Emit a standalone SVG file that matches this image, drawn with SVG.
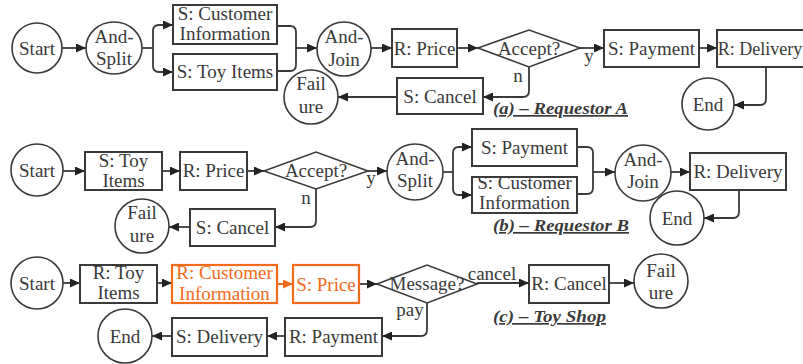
<svg xmlns="http://www.w3.org/2000/svg" width="803" height="364" viewBox="0 0 803 364">
  <style>
    .t { font-family: "Liberation Serif", "Times New Roman", serif; font-size: 19px; fill: #3a3a3a; text-anchor: middle; }
    .o .t, .t.o { fill: #f26a1b; }
    .box { fill: #fff; stroke: #3a3a3a; stroke-width: 2; }
    .obox { fill: #fff; stroke: #f26a1b; stroke-width: 2.2; }
    .circ { fill: #fff; stroke: #3a3a3a; stroke-width: 1.6; }
    .dia { fill: #fff; stroke: #3a3a3a; stroke-width: 1.6; }
    .c { fill: none; stroke: #3a3a3a; stroke-width: 1.8; }
    .arr { marker-end: url(#ah); }
    .oc { fill: none; stroke: #f26a1b; stroke-width: 2; marker-end: url(#aho); }
    .lbl { font-family: "Liberation Serif", "Times New Roman", serif; font-size: 17px; font-weight: bold; font-style: italic; fill: #3a3a3a; text-decoration: underline; }
  </style>
  <defs>
    <marker id="ah" markerUnits="userSpaceOnUse" markerWidth="10" markerHeight="9" refX="10" refY="4.5" orient="auto">
      <path d="M0,0 L10,4.5 L0,9 z" fill="#222"/>
    </marker>
    <marker id="aho" markerUnits="userSpaceOnUse" markerWidth="10" markerHeight="9" refX="10" refY="4.5" orient="auto">
      <path d="M0,0 L10,4.5 L0,9 z" fill="#f26a1b"/>
    </marker>
  </defs>
  <rect width="803" height="364" fill="#fff"/>

  <!-- connectors -->
  <g id="connectors">
    <!-- (a) Requestor A -->
    <path class="c arr" d="M62,48 H86"/>
    <path class="c" d="M142,48 H153"/>
    <path class="c arr" d="M153,48 V31 Q153,25 159,25 H173"/>
    <path class="c arr" d="M153,48 V66 Q153,72 159,72 H173"/>
    <path class="c" d="M277,26 H290 Q296,26 296,32 V65 Q296,71 290,71 H277"/>
    <path class="c arr" d="M296,48 H317"/>
    <path class="c arr" d="M371,48 H392"/>
    <path class="c arr" d="M457,48 H478"/>
    <path class="c arr" d="M580,48 H604"/>
    <path class="c arr" d="M699,48 H717"/>
    <path class="c arr" d="M766,67 V99 Q766,105 760,105 H734"/>
    <path class="c arr" d="M529,67 V91 Q529,97 523,97 H483"/>
    <path class="c arr" d="M397,97 H338"/>
    <!-- (b) Requestor B -->
    <path class="c arr" d="M63,171 H85"/>
    <path class="c arr" d="M162,171 H180"/>
    <path class="c arr" d="M247,171 H264"/>
    <path class="c arr" d="M368,171 H387"/>
    <path class="c" d="M443,172 H453"/>
    <path class="c arr" d="M453,172 V153 Q453,147 459,147 H472"/>
    <path class="c arr" d="M453,172 V189 Q453,195 459,195 H472"/>
    <path class="c" d="M577,147 H587 Q593,147 593,153 V188 Q593,194 587,194 H577"/>
    <path class="c arr" d="M593,172 H615"/>
    <path class="c arr" d="M671,172 H690"/>
    <path class="c arr" d="M739,190 V212 Q739,218 733,218 H704"/>
    <path class="c arr" d="M316,189 V221 Q316,227 310,227 H275"/>
    <path class="c arr" d="M190,227 H169"/>
    <!-- (c) Toy Shop -->
    <path class="c arr" d="M63,283 H80"/>
    <path class="c arr" d="M157,283 H172"/>
    <path class="oc" d="M277,284 H293"/>
    <path class="c arr" d="M359,284 H377"/>
    <path class="c arr" d="M477,283 H529"/>
    <path class="c arr" d="M609,283 H634"/>
    <path class="c arr" d="M427,303 V330 Q427,336 421,336 H382"/>
    <path class="c arr" d="M285,336 H267"/>
    <path class="c arr" d="M172,336 H152"/>
  </g>

  <!-- (a) Requestor A -->
  <g id="a-start"><circle class="circ" cx="37" cy="48" r="25"/><text class="t" x="37" y="55">Start</text></g>
  <g id="a-and-split"><ellipse class="circ" cx="114" cy="48" rx="28" ry="26"/><text class="t" x="114" y="43">And-</text><text class="t" x="114" y="65">Split</text></g>
  <g id="a-customer-info"><rect class="box" x="173" y="5" width="104" height="39"/><text class="t" x="225" y="20">S: Customer</text><text class="t" x="225" y="40">Information</text></g>
  <g id="a-toy-items"><rect class="box" x="173" y="54" width="104" height="36"/><text class="t" x="225" y="78">S: Toy Items</text></g>
  <g id="a-and-join"><ellipse class="circ" cx="344" cy="49" rx="27" ry="27"/><text class="t" x="344" y="43">And-</text><text class="t" x="344" y="66">Join</text></g>
  <g id="a-price"><rect class="box" x="392" y="29" width="65" height="38"/><text class="t" x="424.5" y="55">R: Price</text></g>
  <g id="a-accept"><polygon class="dia" points="478,48 529,30 580,48 529,67"/><text class="t" x="529" y="55">Accept?</text></g>
  <g id="a-payment"><rect class="box" x="604" y="30" width="95" height="37"/><text class="t" x="651.5" y="55">S: Payment</text></g>
  <g id="a-delivery"><rect class="box" x="717" y="30" width="90" height="37"/><text class="t" x="760" y="55" style="font-size:18px">R: Delivery</text></g>
  <g id="a-end"><circle class="circ" cx="708" cy="104" r="26"/><text class="t" x="708" y="111">End</text></g>
  <g id="a-cancel"><rect class="box" x="397" y="78" width="86" height="36"/><text class="t" x="440" y="103">S: Cancel</text></g>
  <g id="a-failure"><circle class="circ" cx="311" cy="97" r="27"/><text class="t" x="311" y="90">Fail</text><text class="t" x="311" y="113">ure</text></g>
  <text class="t" x="589" y="62">y</text>
  <text class="t" x="518" y="82">n</text>
  <text class="lbl" x="493" y="114" textLength="135" lengthAdjust="spacingAndGlyphs">(a) – Requestor A</text>

  <!-- (b) Requestor B -->
  <g id="b-start"><circle class="circ" cx="37" cy="170" r="26"/><text class="t" x="37" y="177">Start</text></g>
  <g id="b-toy-items"><rect class="box" x="85" y="152" width="77" height="38"/><text class="t" x="123.5" y="167">S: Toy</text><text class="t" x="123.5" y="187">Items</text></g>
  <g id="b-price"><rect class="box" x="180" y="152" width="67" height="38"/><text class="t" x="213.5" y="177">R: Price</text></g>
  <g id="b-accept"><polygon class="dia" points="264,171 316,152 368,171 316,189"/><text class="t" x="316" y="177">Accept?</text></g>
  <g id="b-and-split"><ellipse class="circ" cx="415" cy="172" rx="28" ry="28"/><text class="t" x="415" y="165">And-</text><text class="t" x="415" y="187">Split</text></g>
  <g id="b-payment"><rect class="box" x="472" y="129" width="105" height="37"/><text class="t" x="524.5" y="154">S: Payment</text></g>
  <g id="b-customer-info"><rect class="box" x="472" y="177" width="105" height="36"/><text class="t" x="524.5" y="189">S: Customer</text><text class="t" x="524.5" y="209">Information</text></g>
  <g id="b-and-join"><ellipse class="circ" cx="643" cy="173" rx="28" ry="28"/><text class="t" x="643" y="166">And-</text><text class="t" x="643" y="188">Join</text></g>
  <g id="b-delivery"><rect class="box" x="690" y="153" width="96" height="37"/><text class="t" x="738" y="178">R: Delivery</text></g>
  <g id="b-end"><circle class="circ" cx="677" cy="218" r="27"/><text class="t" x="677" y="225">End</text></g>
  <g id="b-cancel"><rect class="box" x="190" y="209" width="85" height="37"/><text class="t" x="232.5" y="234">S: Cancel</text></g>
  <g id="b-failure"><circle class="circ" cx="142" cy="226" r="27"/><text class="t" x="142" y="219">Fail</text><text class="t" x="142" y="242">ure</text></g>
  <text class="t" x="371" y="184">y</text>
  <text class="t" x="306" y="204">n</text>
  <text class="lbl" x="493" y="231" textLength="136" lengthAdjust="spacingAndGlyphs">(b) – Requestor B</text>

  <!-- (c) Toy Shop -->
  <g id="c-start"><circle class="circ" cx="37" cy="283" r="26"/><text class="t" x="37" y="290">Start</text></g>
  <g id="c-toy-items"><rect class="box" x="80" y="265" width="77" height="38"/><text class="t" x="118.5" y="279">R: Toy</text><text class="t" x="118.5" y="299">Items</text></g>
  <g id="c-customer-info" class="o"><rect class="obox" x="172" y="265" width="105" height="38"/><text class="t" x="224.5" y="279">R: Customer</text><text class="t" x="224.5" y="300">Information</text></g>
  <g id="c-price" class="o"><rect class="obox" x="293" y="265" width="66" height="38"/><text class="t" x="326" y="291">S: Price</text></g>
  <g id="c-message"><polygon class="dia" points="377,284 427,265 477,284 427,303"/><text class="t" x="427" y="290">Message?</text></g>
  <g id="c-cancel"><rect class="box" x="529" y="265" width="80" height="38"/><text class="t" x="569" y="290">R: Cancel</text></g>
  <g id="c-failure"><circle class="circ" cx="661" cy="281" r="27"/><text class="t" x="661" y="277">Fail</text><text class="t" x="661" y="299">ure</text></g>
  <g id="c-payment"><rect class="box" x="285" y="318" width="97" height="38"/><text class="t" x="333.5" y="343">R: Payment</text></g>
  <g id="c-delivery"><rect class="box" x="172" y="318" width="95" height="38"/><text class="t" x="219.5" y="343">S: Delivery</text></g>
  <g id="c-end"><circle class="circ" cx="125" cy="336" r="27"/><text class="t" x="125" y="343">End</text></g>
  <text class="t" x="492" y="280">cancel</text>
  <text class="t" x="410" y="316">pay</text>
  <text class="lbl" x="493" y="322" textLength="113" lengthAdjust="spacingAndGlyphs">(c) – Toy Shop</text>
</svg>
